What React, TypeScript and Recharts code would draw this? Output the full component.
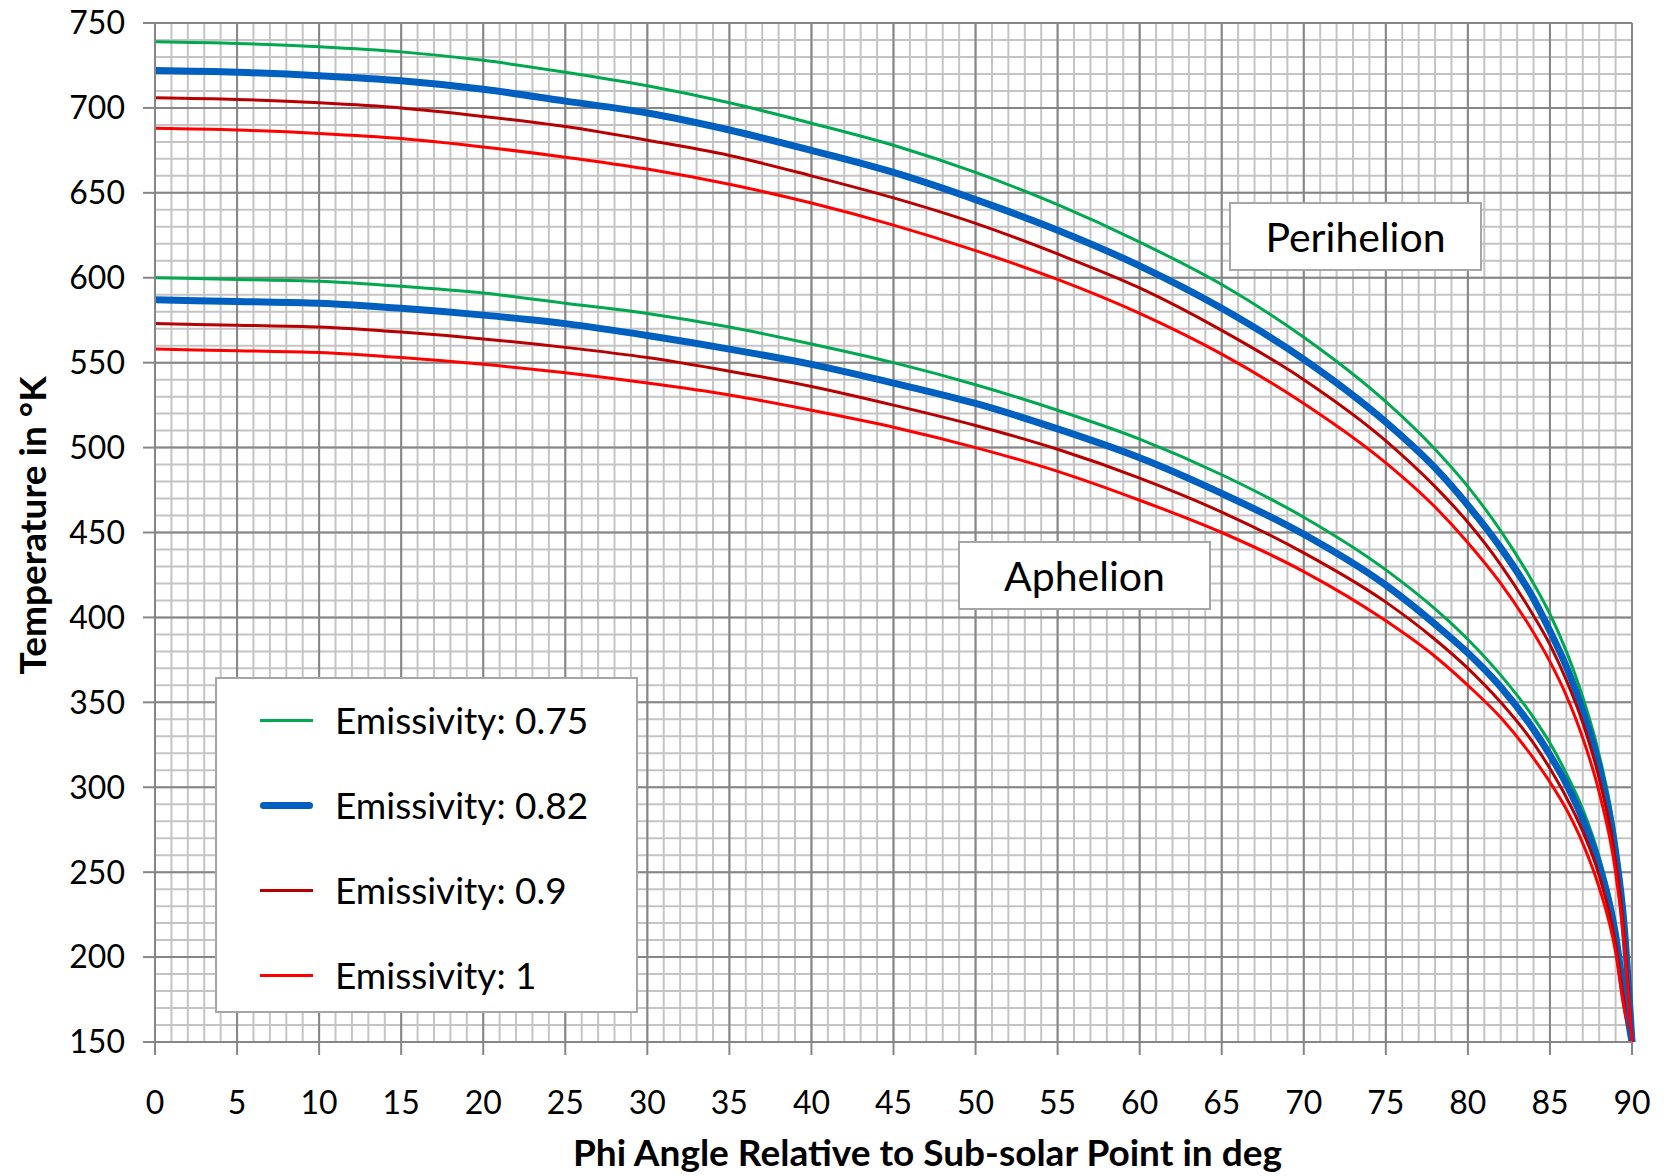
import { LineChart, Line, XAxis, YAxis, CartesianGrid, Legend } from "recharts";

// phi angle (deg) sample points
const PHI = [0, 5, 10, 15, 20, 25, 30, 35, 40, 45, 50, 55, 60, 65, 70, 75, 78, 80, 82, 84, 85, 86, 87, 88, 89, 89.5, 90];

// Perihelion temperatures (K)
const PERI_075 = [739, 738, 736, 733, 728, 721, 713, 703, 691, 678, 662, 643, 621, 596, 565, 527, 499, 477, 451, 420, 402, 380, 353, 319, 269, 226, 150];
const PERI_082 = [722, 721, 719, 716, 711, 704, 697, 687, 675, 662, 646, 628, 607, 582, 552, 515, 488, 466, 441, 411, 392, 371, 345, 312, 262, 221, 150];
const PERI_090 = [706, 705, 703, 700, 695, 689, 681, 672, 660, 647, 632, 614, 594, 569, 540, 504, 477, 456, 431, 401, 384, 363, 338, 305, 257, 216, 150];
const PERI_100 = [688, 687, 685, 682, 677, 671, 664, 655, 644, 631, 616, 599, 579, 555, 526, 491, 465, 444, 420, 391, 374, 354, 329, 297, 250, 210, 150];

// Aphelion temperatures (K)
const APH_075 = [600, 599, 598, 595, 591, 585, 579, 571, 561, 550, 537, 522, 505, 484, 459, 428, 405, 387, 366, 341, 326, 308, 287, 259, 218, 183, 150];
const APH_082 = [587, 586, 585, 582, 578, 573, 566, 558, 549, 538, 526, 511, 494, 473, 449, 419, 396, 379, 359, 334, 319, 302, 281, 254, 213, 179, 150];
const APH_090 = [573, 572, 571, 568, 564, 559, 553, 545, 536, 525, 513, 499, 482, 462, 438, 409, 387, 370, 350, 326, 311, 294, 274, 248, 208, 175, 150];
const APH_100 = [558, 557, 556, 553, 549, 544, 538, 531, 522, 512, 500, 486, 469, 450, 427, 398, 377, 360, 341, 317, 303, 287, 267, 241, 203, 171, 150];

const X_TICKS = [0, 5, 10, 15, 20, 25, 30, 35, 40, 45, 50, 55, 60, 65, 70, 75, 80, 85, 90];
const Y_TICKS = [150, 200, 250, 300, 350, 400, 450, 500, 550, 600, 650, 700, 750];
const MINOR_X = Array.from({ length: 91 }, (_, i) => i);
const MINOR_Y = Array.from({ length: 61 }, (_, i) => 150 + i * 10);

const SERIES = [
  { key: "e075", name: "Emissivity: 0.75", color: "#00A84F", width: 3 },
  { key: "e082", name: "Emissivity: 0.82", color: "#0060C0", width: 7 },
  { key: "e090", name: "Emissivity: 0.9", color: "#B80000", width: 3 },
  { key: "e100", name: "Emissivity: 1", color: "#FF0000", width: 3 },
];

const data = PHI.map((phi, i) => ({
  phi,
  p_e075: PERI_075[i],
  p_e082: PERI_082[i],
  p_e090: PERI_090[i],
  p_e100: PERI_100[i],
  a_e075: APH_075[i],
  a_e082: APH_082[i],
  a_e090: APH_090[i],
  a_e100: APH_100[i],
}));

const FONT = "Lato, 'Open Sans', sans-serif";

const XTitle = (props: any) => {
  const vb = props.viewBox;
  return (
    <text x={vb.x + vb.width / 2 + 34} y={vb.y + 124} textAnchor="middle" fontSize={37} fontWeight="bold" fontFamily={FONT} fill="#000">
      Phi Angle Relative to Sub-solar Point in deg
    </text>
  );
};

const YTitle = (props: any) => {
  const vb = props.viewBox;
  const cx = 31;
  const cy = vb.y + vb.height / 2 - 7;
  return (
    <text x={cx} y={cy} transform={`rotate(-90, ${cx}, ${cy})`} textAnchor="middle" dominantBaseline="central" fontSize={37} fontWeight="bold" fontFamily={FONT} fill="#000">
      Temperature in °K
    </text>
  );
};

const LegendBox = () => (
  <div style={{ position: "relative", width: 423, height: 336, background: "#fff", border: "2px solid #A6A6A6", boxSizing: "border-box", fontFamily: FONT }}>
    {SERIES.map((s, i) => (
      <div key={s.key} style={{ position: "absolute", left: 0, top: 41 + i * 85 - 20, height: 40, width: "100%" }}>
        <div style={{ position: "absolute", left: 43, top: 20 - s.width / 2, width: 53, height: s.width, background: s.color, borderRadius: s.width > 4 ? 4 : 0 }} />
        <div style={{ position: "absolute", left: 118, top: 0, height: 40, lineHeight: "40px", fontSize: 37, color: "#000", whiteSpace: "nowrap" }}>{s.name}</div>
      </div>
    ))}
  </div>
);

const boxStyle = (left: number, top: number) => ({
  position: "absolute" as const,
  left,
  top,
  width: 253,
  height: 69,
  background: "#fff",
  border: "2px solid #A6A6A6",
  boxSizing: "border-box" as const,
  display: "flex",
  alignItems: "center",
  justifyContent: "center",
  fontFamily: FONT,
  fontSize: 41,
  color: "#000",
});

export default function App() {
  return (
    <div style={{ position: "absolute", left: 0, top: 0, width: 1669, height: 1176, background: "#fff", fontFamily: FONT }}>
      <LineChart width={1669} height={1176} data={data} margin={{ top: 23, right: 37, bottom: 0, left: 0 }}>
        <CartesianGrid stroke="#C4C4C4" strokeWidth={2} horizontalValues={MINOR_Y} verticalValues={MINOR_X} />
        <CartesianGrid stroke="#868686" strokeWidth={2} />
        <XAxis
          dataKey="phi"
          type="number"
          domain={[0, 90]}
          ticks={X_TICKS}
          interval={0}
          height={134}
          tickSize={13}
          tickMargin={36}
          axisLine={{ stroke: "#868686", strokeWidth: 2 }}
          tickLine={{ stroke: "#868686", strokeWidth: 2 }}
          tick={{ fill: "#000", fontSize: 32, fontFamily: FONT }}
          label={<XTitle />}
        />
        <YAxis
          type="number"
          domain={[150, 750]}
          ticks={Y_TICKS}
          interval={0}
          width={155}
          tickSize={12}
          tickMargin={18}
          axisLine={{ stroke: "#868686", strokeWidth: 2 }}
          tickLine={{ stroke: "#868686", strokeWidth: 2 }}
          tick={{ fill: "#000", fontSize: 32, fontFamily: FONT }}
          label={<YTitle />}
        />
        {SERIES.map((s) => (
          <Line
            key={"a" + s.key}
            dataKey={"a_" + s.key}
            name={s.name + " (Aphelion)"}
            stroke={s.color}
            strokeWidth={s.width}
            type="monotone"
            dot={false}
            legendType="none"
            isAnimationActive={false}
          />
        ))}
        {SERIES.map((s) => (
          <Line
            key={"p" + s.key}
            dataKey={"p_" + s.key}
            name={s.name}
            stroke={s.color}
            strokeWidth={s.width}
            type="monotone"
            dot={false}
            isAnimationActive={false}
          />
        ))}
        <Legend
          layout="vertical"
          align="center"
          verticalAlign="middle"
          wrapperStyle={{ left: 215, top: 677, width: 423, height: 336 }}
          content={() => <LegendBox />}
        />
      </LineChart>
      <div style={boxStyle(1229, 202)}>Perihelion</div>
      <div style={boxStyle(958, 541)}>Aphelion</div>
    </div>
  );
}
